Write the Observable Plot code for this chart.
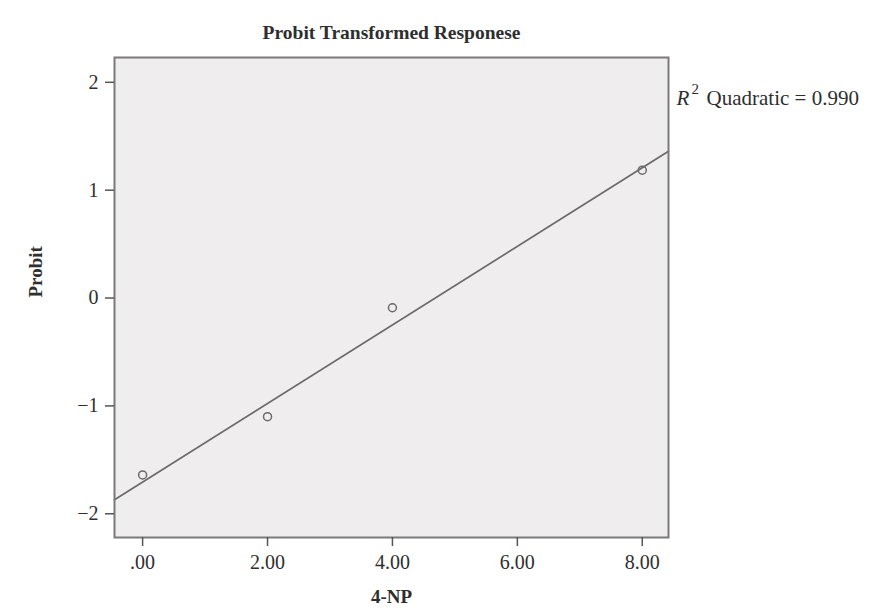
<!DOCTYPE html>
<html>
<head>
<meta charset="utf-8">
<script src="https://cdn.jsdelivr.net/npm/d3@7"></script>
<script src="https://cdn.jsdelivr.net/npm/@observablehq/plot@0.6"></script>
<style>
  html, body { margin: 0; padding: 0; background: #fff; }
</style>
</head>
<body>
<div id="chart"></div>
<script>
const doseX = [0, 2, 4, 8];
const probitY = [-1.64, -1.10, -0.09, 1.185];
// Fit line endpoints at plot edges
const fitX = [-0.45, 8.42];
const fitY = [-1.87, 1.36];
// Ticks
const xTicks = [0, 2, 4, 6, 8];
const xTickLabels = [".00", "2.00", "4.00", "6.00", "8.00"];
const yTicks = [-2, -1, 0, 1, 2];
const yTickLabels = ["\u22122", "\u22121", "0", "1", "2"];
const titleText = "Probit Transformed Responese";
const xLabel = "4-NP";
const yLabel = "Probit";
const r2Text = "Quadratic = 0.990";

const points = doseX.map((x, i) => ({x, y: probitY[i]}));
const fit = fitX.map((x, i) => ({x, y: fitY[i]}));

const serif = "'Liberation Serif', 'DejaVu Serif', serif";
const gray = "#6a6a6a";
const ink = "#2e2e2e";

const chart = Plot.plot({
  width: 876,
  height: 611,
  marginLeft: 114,
  marginRight: 208,
  marginTop: 57,
  marginBottom: 74,
  style: {fontFamily: serif, fontSize: "20px", color: ink, background: "#fff"},
  x: {domain: [-0.45, 8.42], label: null},
  y: {domain: [-2.22, 2.23], label: null},
  marks: [
    Plot.frame({fill: "#efedee", stroke: "none"}),
    Plot.line(fit, {x: "x", y: "y", stroke: gray, strokeWidth: 1.7}),
    Plot.dot(points, {x: "x", y: "y", r: 4, stroke: gray, strokeWidth: 1.5, fill: "none"}),
    Plot.frame({stroke: "#7a7a7a", strokeWidth: 2, fill: "none"}),
    Plot.axisX({ticks: xTicks, tickFormat: d => xTickLabels[xTicks.indexOf(d)], tickSize: 9, tickPadding: 8, stroke: "#555", strokeWidth: 1.5, fontSize: 20, fill: ink, label: null}),
    Plot.axisY({ticks: yTicks, tickFormat: d => yTickLabels[yTicks.indexOf(d)], tickSize: 9, tickPadding: 7, stroke: "#555", strokeWidth: 1.5, fontSize: 20, fill: ink, label: null}),
    Plot.text([titleText], {frameAnchor: "top", dy: -32, text: d => d, fontWeight: "bold", fontSize: 19.5, fill: ink}),
    Plot.text([xLabel], {frameAnchor: "bottom", dy: 65, text: d => d, fontWeight: "bold", fontSize: 19, fill: ink}),
    Plot.text([yLabel], {frameAnchor: "left", dx: -79, rotate: -90, text: d => d, fontWeight: "bold", fontSize: 19, fill: ink}),
    Plot.text(["R"], {frameAnchor: "top-right", dx: 8, dy: 33, text: d => d, textAnchor: "start", fontStyle: "italic", fontSize: 21, fill: ink}),
    Plot.text(["2"], {frameAnchor: "top-right", dx: 23, dy: 26, text: d => d, textAnchor: "start", fontSize: 15, fill: ink}),
    Plot.text([r2Text], {frameAnchor: "top-right", dx: 38, dy: 33, text: d => d, textAnchor: "start", fontSize: 21, fill: ink})
  ]
});
document.getElementById("chart").appendChild(chart);
</script>
</body>
</html>
